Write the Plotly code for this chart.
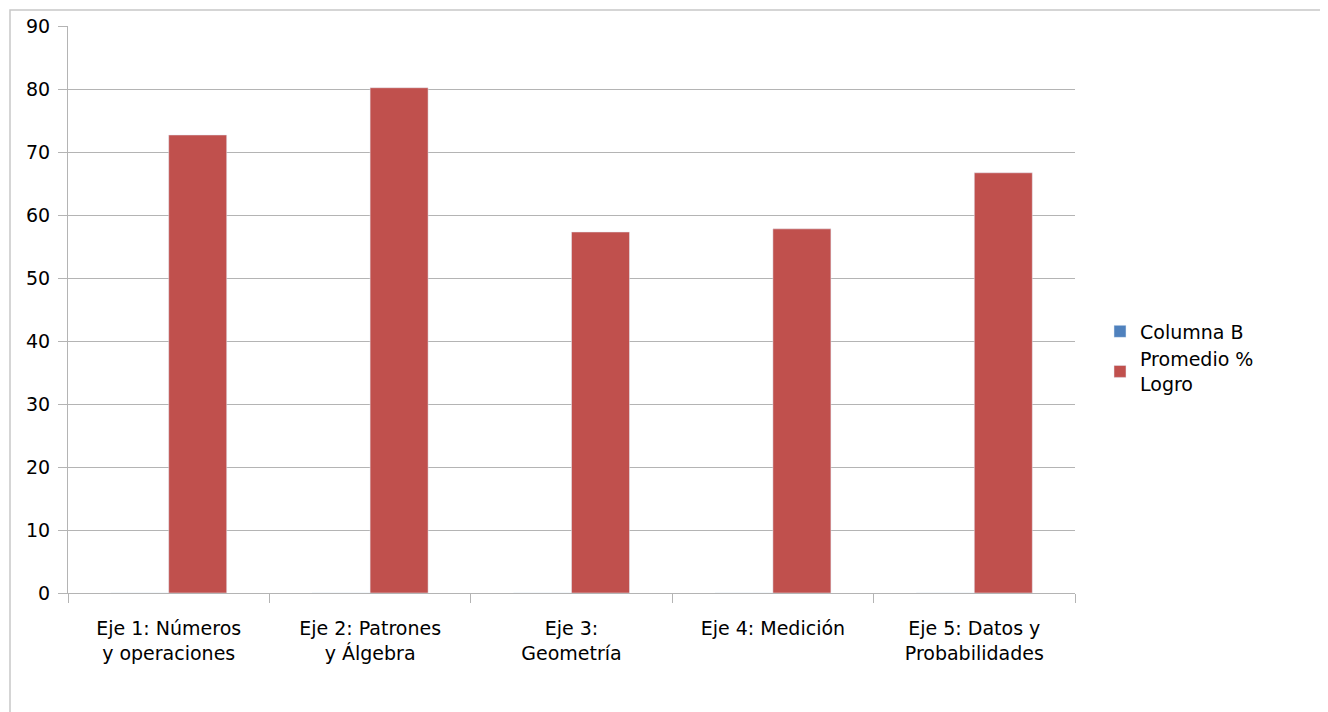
import plotly.graph_objects as go

categories = ["Eje 1: Números<br>y operaciones", "Eje 2: Patrones<br>y Álgebra",
              "Eje 3:<br>Geometría", "Eje 4: Medición", "Eje 5: Datos y<br>Probabilidades"]
columna_b = [0, 0, 0, 0, 0]
promedio_logro = [72.7, 80.2, 57.3, 57.8, 66.7]
y_ticks = [0, 10, 20, 30, 40, 50, 60, 70, 80, 90]

# page is offset by 8px body margin
OFF = 8
W, H = 1328 - OFF, 712 - OFF
L, T = 68 - OFF, 26 - OFF
R = W - (1075 - OFF)
B = H - (593 - OFF)
pw, ph = W - L - R, H - T - B

def px(x):
    return (x - OFF - L) / pw

def py(y):
    return (H - B - (y - OFF)) / ph

font = "DejaVu Sans, Liberation Sans, sans-serif"

fig = go.Figure()
fig.add_trace(go.Bar(x=categories, y=columna_b, name="Columna B", marker_color="#4F81BD"))
fig.add_trace(go.Bar(x=categories, y=promedio_logro, name="Promedio %<br>Logro", marker_color="#C0504D"))

fig.update_layout(
    width=W, height=H,
    margin=dict(l=L, r=R, t=T, b=B, autoexpand=False),
    paper_bgcolor="white", plot_bgcolor="white",
    barmode="group", bargap=0.424, bargroupgap=0,
    font=dict(family=font, size=19, color="#000000"),
    showlegend=True,
    legend=dict(x=px(1100), y=py(358), xanchor="left", yanchor="middle",
                font=dict(size=19), tracegroupgap=0),
    xaxis=dict(showline=True, linecolor="#b4b4b4", linewidth=1, automargin=False,
               ticks="outside", ticklen=9, tickcolor="#b4b4b4", tickson="boundaries",
               showgrid=False, tickfont=dict(size=19), ticklabelstandoff=18),
    yaxis=dict(range=[0, 90], tickvals=y_ticks, showline=True, linecolor="#b4b4b4", linewidth=1,
               automargin=False,
               ticks="outside", ticklen=9, tickcolor="#b4b4b4",
               showgrid=True, gridcolor="#b4b4b4", gridwidth=1,
               zeroline=False, tickfont=dict(size=19), ticklabelstandoff=4),
    shapes=[dict(type="rect", xref="paper", yref="paper",
                 x0=px(10), x1=px(1340), y0=py(725), y1=py(10),
                 line=dict(color="#c8c8c8", width=1.5), layer="below")],
)

fig.write_html("out.html")
